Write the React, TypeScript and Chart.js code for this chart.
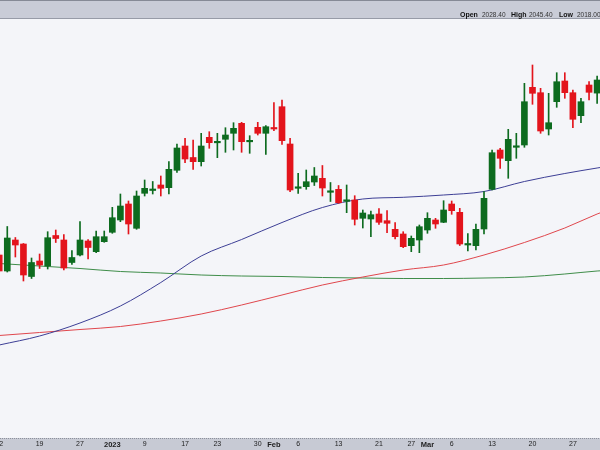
import React, { useEffect, useRef } from "react";
import { Chart, registerables } from "chart.js";

Chart.register(...registerables);

// Daily candles, 2022-12-12 .. 2023-03-30 (index = trading day)
const opens = [
  1866.5, 1850.5, 1881.5, 1877.5, 1845, 1860.5, 1855.5, 1886, 1881.5, 1859,
  1866.5, 1880.5, 1869.8, 1879.8, 1889.2, 1901.5, 1917.5, 1893.2, 1928.2, 1931,
  1936.5, 1933.8, 1951.2, 1975.5, 1964, 1959.8, 1984.2, 1978.7, 1982.2, 1988.2,
  1998.2, 1979.7, 1994.2, 1988.2, 1994, 2014.8, 1977.5, 1933.2, 1934.8, 1939.5,
  1943.2, 1929.2, 1932.2, 1920.2, 1921.5, 1903.2, 1902.5, 1907.5, 1900.8, 1892.2,
  1887.5, 1875.8, 1881.5, 1891.5, 1901.5, 1899.2, 1917.5, 1909.2, 1876.5, 1875.8,
  1892.5, 1932.2, 1971.5, 1960.8, 1974.2, 1976.5, 2034.2, 2028.8, 1992.5, 2019.8,
  2040.5, 2028.8, 2005.8, 2036.5, 2028.4,
];
const highs = [
  1868.5, 1895, 1884, 1878, 1863.5, 1867.5, 1889.8, 1891.5, 1887, 1871,
  1899.8, 1882, 1890.5, 1890.5, 1914.2, 1927.5, 1920.5, 1930.5, 1941.5, 1940,
  1945.5, 1959.8, 1977.5, 1983.2, 1981.5, 1988.2, 1989.8, 1988.2, 1993.8, 1998.8,
  1999.2, 1985.8, 1999.2, 1995.8, 2018.8, 2021.5, 1983.2, 1948.2, 1951.5, 1954,
  1956, 1939, 1936, 1936.5, 1925.8, 1911.5, 1910.5, 1912.8, 1910.8, 1898.8,
  1889.8, 1885.5, 1896.5, 1908.8, 1903.2, 1920.8, 1920.5, 1913.2, 1888, 1897.5,
  1929.8, 1971.5, 1973.2, 1992.2, 1988.2, 2038.2, 2056.5, 2033.2, 2028.2, 2048.8,
  2048.8, 2031.5, 2023.2, 2039.8, 2045.4,
];
const lows = [
  1849.5, 1849.5, 1864.5, 1840.5, 1843, 1853, 1852.5, 1879, 1851.5, 1857,
  1865.5, 1862.5, 1868.8, 1879.2, 1888.2, 1899.8, 1887.5, 1892.2, 1925.5, 1927.5,
  1925.5, 1927.5, 1949, 1958.8, 1952.2, 1955.5, 1973.2, 1963.8, 1969.2, 1971.5,
  1969.2, 1968.2, 1986.5, 1967.2, 1990.8, 1977, 1929.8, 1928.2, 1932.2, 1936,
  1925.5, 1920, 1918.2, 1908.8, 1896.5, 1893.5, 1884.8, 1897, 1888.8, 1882.5,
  1873.8, 1869.8, 1868.8, 1888.2, 1893.2, 1898.8, 1907.2, 1876, 1870.5, 1871.5,
  1887.5, 1931.5, 1953.2, 1943.2, 1963.2, 1974.2, 2017.2, 1988.2, 1986.5, 2014.2,
  2023.2, 1993.8, 1998.8, 2021.5, 2018.0,
];
const closes = [
  1850.5, 1883.5, 1876.5, 1846.5, 1859, 1856.5, 1883.8, 1883, 1853.5, 1864,
  1881.5, 1874, 1884.8, 1884.8, 1903.8, 1915.5, 1897.5, 1925.5, 1933.2, 1932.5,
  1933.2, 1952.2, 1973.5, 1962.5, 1959.8, 1975.5, 1978.8, 1980.2, 1986.5, 1993.2,
  1979.8, 1981.2, 1988.2, 1994.8, 1992.5, 1980.8, 1931.5, 1934.7, 1939.8, 1945.5,
  1933.5, 1930.7, 1918.8, 1921.7, 1902.2, 1908.5, 1906.8, 1899.2, 1898.2, 1884.8,
  1874.8, 1883.2, 1894.8, 1903.2, 1897.5, 1911.5, 1910.8, 1877.5, 1878, 1892.2,
  1923.2, 1968.8, 1963.2, 1982.2, 1975.7, 2019.8, 2028.2, 1990.5, 1998.8, 2039.8,
  2028.8, 2002.2, 2019.8, 2029.2, 2041.5,
];

// Moving averages read at these trading-day indexes
const maIndex = [0, 5, 10, 15, 20, 25, 30, 35, 40, 45, 50, 55, 60, 65, 70, 74, 75];
const maBlue = [1776.5, 1785.5, 1798.5, 1815.5, 1839, 1865.5, 1882, 1899, 1914, 1922.5, 1924.2, 1926.5, 1930, 1940, 1948, 1953.5, 1954.8];
const maRed = [1786, 1789, 1792, 1795, 1800.5, 1807.5, 1816.5, 1826.5, 1836.5, 1844.5, 1851.5, 1856.5, 1866.5, 1879, 1893.5, 1907.5, 1910.5];
const maGreen = [1858, 1855.5, 1853, 1850, 1848.5, 1846.5, 1845.5, 1845, 1844, 1843.5, 1843, 1843, 1843.5, 1844.5, 1847.5, 1850.5, 1851];

const tickIndex = [0, 5, 10, 14, 18, 23, 27, 32, 34, 37, 42, 47, 51, 53, 56, 61, 66, 71];
const tickLabels = ["12", "19", "27", "2023", "9", "17", "23", "30", "Feb", "6", "13", "21", "27", "Mar", "6", "13", "20", "27"];
const boldTicks = ["2023", "Feb", "Mar"];

const headerNames = ["Open", "High", "Low"];
const headerValues = ["2028.40", "2045.40", "2018.00"];

const FONT = "'Liberation Sans', Arial, sans-serif";
const UP = "#0d6b1f";
const DOWN = "#e3141c";

export default function App() {
  const ref = useRef<HTMLCanvasElement | null>(null);

  useEffect(() => {
    const canvas = ref.current;
    if (!canvas) return;

    const frame = {
      id: "frame",
      beforeDraw(chart: any) {
        const { ctx, width, height, chartArea } = chart;
        ctx.save();
        ctx.fillStyle = "#f4f5f9";
        ctx.fillRect(0, 0, width, height);
        ctx.fillStyle = "#c9ccd7";
        ctx.fillRect(0, 0, width, chartArea.top - 1);
        ctx.fillStyle = "#868a96";
        ctx.fillRect(0, 0, width, 1);
        ctx.fillStyle = "#979ba7";
        ctx.fillRect(0, chartArea.top - 1, width, 1);
        ctx.fillStyle = "#c7cad4";
        ctx.fillRect(0, chartArea.bottom, width, height - chartArea.bottom);
        ctx.fillStyle = "#8d919c";
        for (let x = 0; x < width; x += 2) ctx.fillRect(x, chartArea.bottom, 1, 1);
        ctx.restore();
      },
      afterDraw(chart: any) {
        const { ctx } = chart;
        const nameX = [460, 511, 559];
        const valX = [482, 529, 577];
        ctx.save();
        ctx.textBaseline = "alphabetic";
        ctx.textAlign = "left";
        for (let k = 0; k < headerNames.length; k++) {
          ctx.font = `bold 7px ${FONT}`;
          ctx.fillStyle = "#111";
          ctx.fillText(headerNames[k], nameX[k], 16.5);
          ctx.font = `6.5px ${FONT}`;
          ctx.fillStyle = "#333";
          ctx.fillText(headerValues[k], valX[k], 16.5);
        }
        ctx.restore();
      },
    };

    const idx = opens.map((_, i) => i);
    const colors = idx.map((i) => (closes[i] >= opens[i] ? UP : DOWN));

    const chart = new Chart(canvas, {
      type: "bar",
      data: {
        datasets: [
          {
            type: "line",
            data: maIndex.map((x, k) => ({ x, y: maGreen[k] })),
            borderColor: "#3f8d4a",
            borderWidth: 1,
            pointRadius: 0,
            cubicInterpolationMode: "monotone",
            order: 5,
          } as any,
          {
            type: "line",
            data: maIndex.map((x, k) => ({ x, y: maRed[k] })),
            borderColor: "#e0474d",
            borderWidth: 1,
            pointRadius: 0,
            cubicInterpolationMode: "monotone",
            order: 4,
          } as any,
          {
            type: "line",
            data: maIndex.map((x, k) => ({ x, y: maBlue[k] })),
            borderColor: "#3d3f96",
            borderWidth: 1,
            pointRadius: 0,
            cubicInterpolationMode: "monotone",
            order: 3,
          } as any,
          {
            type: "bar",
            data: idx.map((i) => ({ x: i, y: [lows[i], highs[i]] })),
            backgroundColor: colors,
            barThickness: 1,
            grouped: false,
            order: 2,
          } as any,
          {
            type: "bar",
            data: idx.map((i) => ({ x: i, y: [opens[i], closes[i]] })),
            backgroundColor: colors,
            barThickness: 6,
            grouped: false,
            order: 1,
          } as any,
        ],
      },
      options: {
        animation: false,
        responsive: false,
        events: [],
        layout: { padding: { top: 19, left: 0, right: 0, bottom: 0 } },
        plugins: {
          legend: { display: false },
          tooltip: { enabled: false },
          title: { display: false },
        },
        scales: {
          x: {
            type: "linear",
            min: 0.099,
            max: 74.356,
            offset: false,
            grid: { display: false, drawTicks: false },
            border: { display: false },
            afterBuildTicks: (s: any) => {
              s.ticks = tickIndex.map((v) => ({ value: v }));
            },
            afterFit: (s: any) => {
              s.height = 12;
              s.paddingLeft = 0;
              s.paddingRight = 0;
            },
            ticks: {
              autoSkip: false,
              maxRotation: 0,
              minRotation: 0,
              padding: 2,
              color: "#1e1e1e",
              font: (c: any) => {
                const t = tickLabels[c.index];
                const b = boldTicks.includes(t);
                return { family: FONT, size: b ? 7.5 : 7, weight: b ? "bold" : "normal" };
              },
              callback: (_v: any, i: number) => tickLabels[i],
            },
          } as any,
          y: { display: false, min: 1683.5, max: 2102.5 },
        },
      },
      plugins: [frame],
    });

    return () => chart.destroy();
  }, []);

  return (
    <div style={{ position: "fixed", left: 0, top: 0, width: 600, height: 450 }}>
      <canvas ref={ref} width={600} height={450} style={{ display: "block" }} />
    </div>
  );
}
